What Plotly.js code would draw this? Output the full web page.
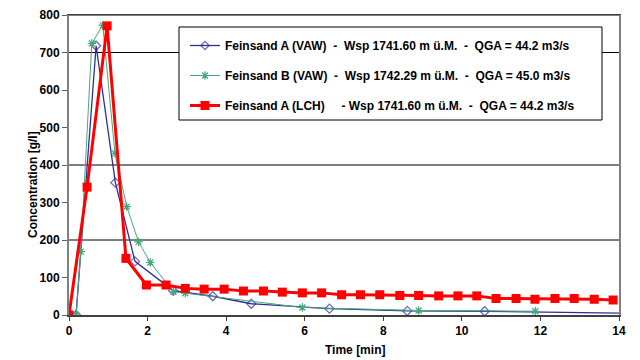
<!DOCTYPE html>
<html>
<head>
<meta charset="utf-8">
<script src="https://cdn.plot.ly/plotly-3.0.1.min.js"></script>
<style>html,body{margin:0;padding:0;background:#fff;}#chart{width:640px;height:360px;}</style>
</head>
<body>
<div id="chart"></div>
<script>
// Feinsand A (VAW)
const blueTime = [0.18, 0.69, 1.18, 1.68, 2.65, 3.66, 4.64, 6.63, 8.61, 10.58, 14.0];
const blueConc = [0, 718, 353, 143, 65, 50, 30, 17, 11, 10, 5];
// Feinsand B (VAW)
const greenTime = [0.18, 0.30, 0.58, 0.86, 1.17, 1.47, 1.77, 2.07, 2.66, 2.96, 5.94, 8.90, 11.87];
const greenConc = [0, 169, 724, 773, 431, 289, 195, 140, 62, 58, 20, 12, 10];
// Feinsand A (LCH)
const redTime = [0, 0.46, 0.97, 1.45, 1.97, 2.47, 2.96, 3.44, 3.95, 4.44, 4.95, 5.43, 5.94, 6.43, 6.94, 7.42, 7.91, 8.42, 8.90, 9.41, 9.90, 10.38, 10.87, 11.38, 11.86, 12.37, 12.86, 13.37, 13.85];
const redConc = [0, 341, 771, 151, 80, 80, 71, 69, 69, 64, 64, 61, 59, 59, 54, 54, 54, 52, 52, 51, 51, 51, 44, 44, 42, 44, 44, 42, 40];

const seriesNames = [
  "Feinsand A (VAW)\u00a0\u00a0-\u00a0\u00a0Wsp 1741.60 m ü.M.\u00a0\u00a0-\u00a0\u00a0QGA = 44.2 m3/s",
  "Feinsand B (VAW)\u00a0\u00a0-\u00a0\u00a0Wsp 1742.29 m ü.M.\u00a0\u00a0-\u00a0\u00a0QGA = 45.0 m3/s",
  "Feinsand A (LCH)\u00a0\u00a0\u00a0\u00a0\u00a0- Wsp 1741.60 m ü.M.\u00a0\u00a0-\u00a0\u00a0QGA = 44.2 m3/s"
];
const yTicks = [0, 100, 200, 300, 400, 500, 600, 700, 800];
const xTicks = [0, 2, 4, 6, 8, 10, 12, 14];
const gridLevels = [200, 400, 700, 800];

const blue = '#2e2e9a', green = '#45a87a', red = '#ff0000';

const traces = [
  {x: blueTime, y: blueConc, name: seriesNames[0], mode: 'lines+markers', legendgroup: 'a',
   line: {color: blue, width: 1.3},
   marker: {symbol: 'diamond-open', size: blueTime.map((t, i) => i === blueTime.length - 1 ? 0 : 7), color: blue, line: {width: 1.3}}},
  {x: greenTime, y: greenConc, name: seriesNames[1], mode: 'lines+markers', legendgroup: 'b',
   line: {color: green, width: 1},
   marker: {symbol: 'asterisk-open', size: 7, color: green, line: {width: 1.2, color: green}}},
  {x: redTime, y: redConc, name: seriesNames[2], mode: 'lines+markers', legendgroup: 'c',
   line: {color: red, width: 3},
   marker: {symbol: 'square', size: 9, color: red}}
];

const shapes = gridLevels.map(v => ({type: 'line', xref: 'paper', x0: 0, x1: 1, yref: 'y', y0: v, y1: v,
  line: {color: '#000', width: 1}, layer: 'below'}));
shapes.push({type: 'rect', xref: 'paper', yref: 'paper',
  x0: (179 - 69) / 550, x1: (602 - 69) / 550, y0: (315 - 120) / 300, y1: (315 - 27) / 300,
  fillcolor: '#fff', line: {color: '#000', width: 1}, layer: 'above'});

const layout = {
  width: 640, height: 360,
  margin: {l: 69, r: 21, t: 15, b: 45},
  paper_bgcolor: '#fff', plot_bgcolor: '#fff',
  font: {family: 'Liberation Sans, Arial, sans-serif', size: 12, color: '#000', weight: 'bold'},
  showlegend: true,
  legend: {x: (185 - 69) / 550, xanchor: 'left', y: (315 - 31) / 300, yanchor: 'top',
    bgcolor: 'rgba(0,0,0,0)', borderwidth: 0, tracegroupgap: 11,
    font: {size: 12, weight: 'bold'}},
  xaxis: {range: [0, 14], tickvals: xTicks, ticktext: xTicks.map(String), showgrid: false, zeroline: false,
    showline: true, linecolor: '#404040', linewidth: 1.5, mirror: true,
    ticks: 'outside', ticklen: 4, tickcolor: '#404040',
    tickfont: {size: 12, weight: 'bold'}},
  yaxis: {range: [0, 800], tickvals: yTicks, ticktext: yTicks.map(String), showgrid: false, zeroline: false,
    showline: true, linecolor: '#808080', linewidth: 2, mirror: true,
    ticks: 'outside', ticklen: 5, tickcolor: '#606060',
    tickfont: {size: 12, weight: 'bold'}},
  shapes: shapes,
  annotations: [
    {text: 'Time [min]', xref: 'paper', yref: 'paper', x: (355 - 69) / 550, y: 0, yshift: -35,
     xanchor: 'center', yanchor: 'middle', showarrow: false, font: {size: 12, weight: 'bold'}},
    {text: 'Concentration [g/l]', xref: 'paper', yref: 'paper', x: 0, xshift: -36, y: (315 - 185) / 300,
     xanchor: 'center', yanchor: 'middle', textangle: -90, showarrow: false, font: {size: 12, weight: 'bold'}}
  ]
};

Plotly.newPlot('chart', traces, layout, {displayModeBar: false, staticPlot: true});
</script>
</body>
</html>
